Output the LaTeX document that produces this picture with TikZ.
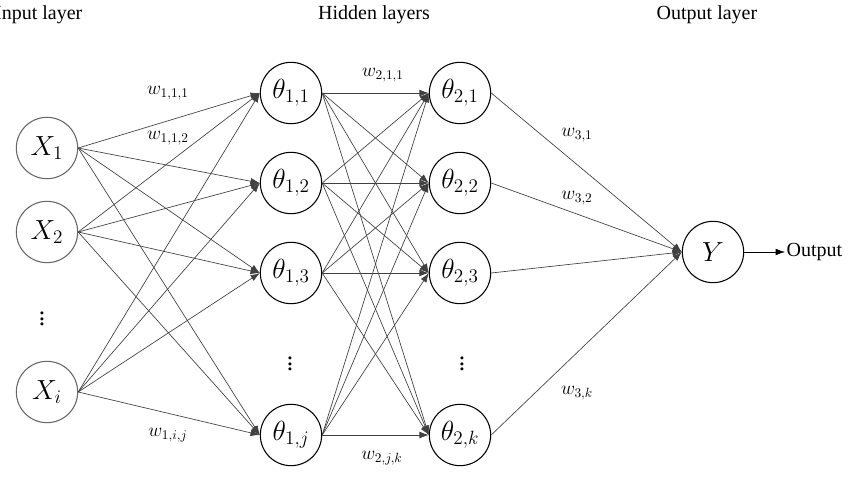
\documentclass[tikz,border=0pt]{standalone}
\usepackage{fontspec}
\setmainfont{Liberation Serif}
\usetikzlibrary{arrows.meta}

\begin{document}
\begin{tikzpicture}[x=0.75pt,y=0.75pt,line join=round,>={Latex[length=7pt,width=5pt]},
	neuron/.style={circle,draw,line width=0.8pt,minimum size=46pt,inner sep=0pt,font=\fontsize{20}{22}\selectfont},
	weight/.style={font=\fontsize{14}{16}\selectfont},
	layer/.style={font=\fontsize{15}{17}\selectfont},
	link/.style={->,line width=0.5pt,black!75}]
	\useasboundingbox (0,0) rectangle (849,480);
	% layer titles
	\node[layer,anchor=east] (tin) at (87,465) {Input layer};
	\node[layer] (thid) at (374,465) {Hidden layers};
	\node[layer] (tout) at (707,465) {Output layer};
	% input layer
	\node[neuron,draw=black!60] (x1) at (47,332) {$X_1$};
	\node[neuron,draw=black!60] (x2) at (47,248) {$X_2$};
	\node[neuron,draw=black!60] (xi) at (47,88) {$X_i$};
	\node[font=\fontsize{19}{21}\selectfont] (dx) at (42,165) {$\vdots$};
	% hidden layers
	\foreach \n/\y in {1/387,2/297,3/207}{
		\node[neuron] (a\n) at (291,\y) {$\theta_{1,\n}$};
		\node[neuron] (b\n) at (460,\y) {$\theta_{2,\n}$};
	}
	\node[neuron] (aj) at (291,45) {$\theta_{1,j}$};
	\node[neuron] (bk) at (460,45) {$\theta_{2,k}$};
	\node[font=\fontsize{19}{21}\selectfont] (da) at (290,120) {$\vdots$};
	\node[font=\fontsize{19}{21}\selectfont] (db) at (462,120) {$\vdots$};
	% output layer
	\node[neuron] (y) at (713,228) {$Y$};
	\node[layer,anchor=west,inner sep=1pt] (out) at (785,228) {Output};
	% links
	\foreach \i in {x1,x2,xi}
		\foreach \j in {a1,a2,a3,aj}
			\draw[link] (\i.east)--(\j.west);
	\foreach \i in {a1,a2,a3,aj}
		\foreach \j in {b1,b2,b3,bk}
			\draw[link] (\i.east)--(\j.west);
	\foreach \i in {b1,b2,b3,bk}
		\draw[link] (\i.east)--(y.west);
	\draw[->,line width=0.5pt] (y.east)--(out.west);
	% weights
	\node[weight] (w111) at (168,387) {$w_{1,1,1}$};
	\node[weight] (w112) at (168,342) {$w_{1,1,2}$};
	\node[weight] (w1ij) at (168,45) {$w_{1,i,j}$};
	\node[weight] (w211) at (383,405) {$w_{2,1,1}$};
	\node[weight] (w2jk) at (382,22) {$w_{2,j,k}$};
	\node[weight] (w31) at (577,345) {$w_{3,1}$};
	\node[weight] (w32) at (577,282) {$w_{3,2}$};
	\node[weight] (w3k) at (577,87) {$w_{3,k}$};
\end{tikzpicture}
\end{document}
